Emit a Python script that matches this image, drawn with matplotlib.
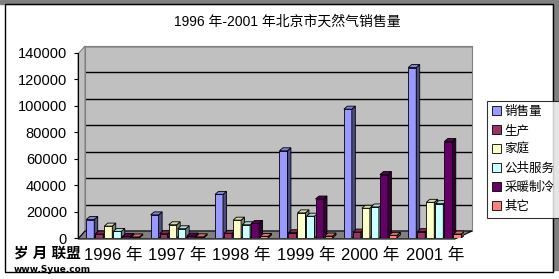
import matplotlib
matplotlib.use("Agg")
import matplotlib.pyplot as plt
from matplotlib.patches import Polygon, Rectangle, Patch
import numpy as np

plt.rcParams['font.family'] = ['Liberation Sans', 'Noto Sans CJK SC', 'DejaVu Sans']

title = "1996 年-2001 年北京市天然气销售量"
years = ["1996 年", "1997 年", "1998 年", "1999 年", "2000 年", "2001 年"]
series = ["销售量", "生产", "家庭", "公共服务", "采暖制冷", "其它"]
sales = [14000, 17500, 33000, 66000, 97500, 129000]
production = [3000, 3200, 3500, 4000, 4500, 4800]
household = [9000, 10000, 13500, 19000, 22500, 27000]
public = [5000, 7000, 10000, 16500, 23500, 26000]
heating = [1200, 1500, 11000, 29500, 48000, 73000]
other = [800, 900, 1200, 1500, 2000, 3000]
values = [sales, production, household, public, heating, other]
colors = ["#9999FF", "#993366", "#FFFFCC", "#CCFFFF", "#660066", "#FF8080"]
yticks = [0, 20000, 40000, 60000, 80000, 100000, 120000, 140000]

W, H = 559, 279
fig = plt.figure(figsize=(W / 100, H / 100), dpi=100)

def fx(x):
    return x / W

def fy(y):
    return 1 - y / H

# frame decorations
fig.patches.append(Rectangle((0, fy(4)), 1, 4 / H, transform=fig.transFigure, color="#808080", zorder=-5))
fig.patches.append(Rectangle((fx(553), fy(270)), 6 / W, 266 / H, transform=fig.transFigure, color="#808080", zorder=-5))
fig.patches.append(Rectangle((fx(5), fy(272)), 548 / W, 268 / H, transform=fig.transFigure,
                             facecolor="none", edgecolor="black", lw=1, zorder=-5))

# back wall
axb = fig.add_axes([fx(85), fy(231), (472 - 85) / W, 185 / H], zorder=-3)
axb.set_facecolor("#C0C0C0")
axb.set_ylim(0, 140000)
axb.set_yticks(yticks)
axb.yaxis.grid(True, color="black", lw=1)
axb.set_xticks([])
axb.tick_params(left=False, labelleft=False)
for s in axb.spines.values():
    s.set_color("#808080")

# left wall and floor
fig.patches.append(Polygon([(fx(78), fy(239)), (fx(85), fy(231)), (fx(85), fy(46)), (fx(78), fy(54))],
                           closed=True, transform=fig.transFigure, facecolor="#C0C0C0", edgecolor="#808080", lw=0.8, zorder=-1))
fig.patches.append(Polygon([(fx(78), fy(239)), (fx(455), fy(239)), (fx(472), fy(231)), (fx(85), fy(231))],
                           closed=True, transform=fig.transFigure, facecolor="#808080", edgecolor="black", lw=0.8, zorder=-1))

# front axes with bars
ax = fig.add_axes([fx(78), fy(238), (464.4 - 78) / W, 185 / H], zorder=1)
ax.patch.set_alpha(0)
ax.set_xlim(-0.54, 5.46)
ax.set_ylim(0, 140000)
ax.set_yticks(yticks)
ax.set_yticklabels([str(v) for v in yticks], fontsize=10.5)
ax.tick_params(axis='y', length=3, pad=5)
ax.set_xticks(range(len(years)))
ax.set_xticklabels(years, fontsize=12)
ax.tick_params(axis='x', length=0, pad=7)
for k in ["top", "right", "bottom"]:
    ax.spines[k].set_visible(False)
ax.spines["left"].set_color("black")

bw = 0.124
step = 0.14
dx = 3.5 / 64.4
dy = 3.0 * 140000 / 185

def shade(c, f):
    r, g, b = matplotlib.colors.to_rgb(c)
    return (r * f, g * f, b * f)

for k, (vals, col) in enumerate(zip(values, colors)):
    xs = np.arange(len(years)) + (k - 2.5) * step
    ax.bar(xs, vals, width=bw, color=col, edgecolor="black", linewidth=0.6, zorder=3 + k * 0.01)
    for x, v in zip(xs, vals):
        x0, x1 = x - bw / 2, x + bw / 2
        side = Polygon([(x1, 0), (x1, v), (x1 + dx, v + dy), (x1 + dx, dy)], closed=True,
                       facecolor=shade(col, 0.5), edgecolor="black", lw=0.6, zorder=3 + k * 0.01)
        top = Polygon([(x0, v), (x1, v), (x1 + dx, v + dy), (x0 + dx, v + dy)], closed=True,
                      facecolor=shade(col, 0.85), edgecolor="black", lw=0.6, zorder=3 + k * 0.01)
        ax.add_patch(side)
        ax.add_patch(top)

fig.text(fx(287), fy(22), title, ha="center", va="center", fontsize=10)

handles = [Patch(facecolor=c, edgecolor="black", lw=0.6) for c in colors]
leg = fig.legend(handles, series, loc="upper left", bbox_to_anchor=(fx(487), fy(101)),
                 fontsize=9, frameon=True, fancybox=False, edgecolor="black",
                 handlelength=0.7, handleheight=0.7, handletextpad=0.3,
                 labelspacing=0.55, borderpad=0.4, borderaxespad=0)
leg.get_frame().set_linewidth(0.8)

fig.text(fx(14), fy(254), "岁 月 联盟", ha="left", va="center", fontsize=10.5, fontweight="bold")
fig.text(fx(14), fy(269), "www.Syue.com", ha="left", va="center", fontsize=6.5, fontweight="bold",
         family=["DejaVu Sans"])

fig.savefig("out.png", dpi=100)
